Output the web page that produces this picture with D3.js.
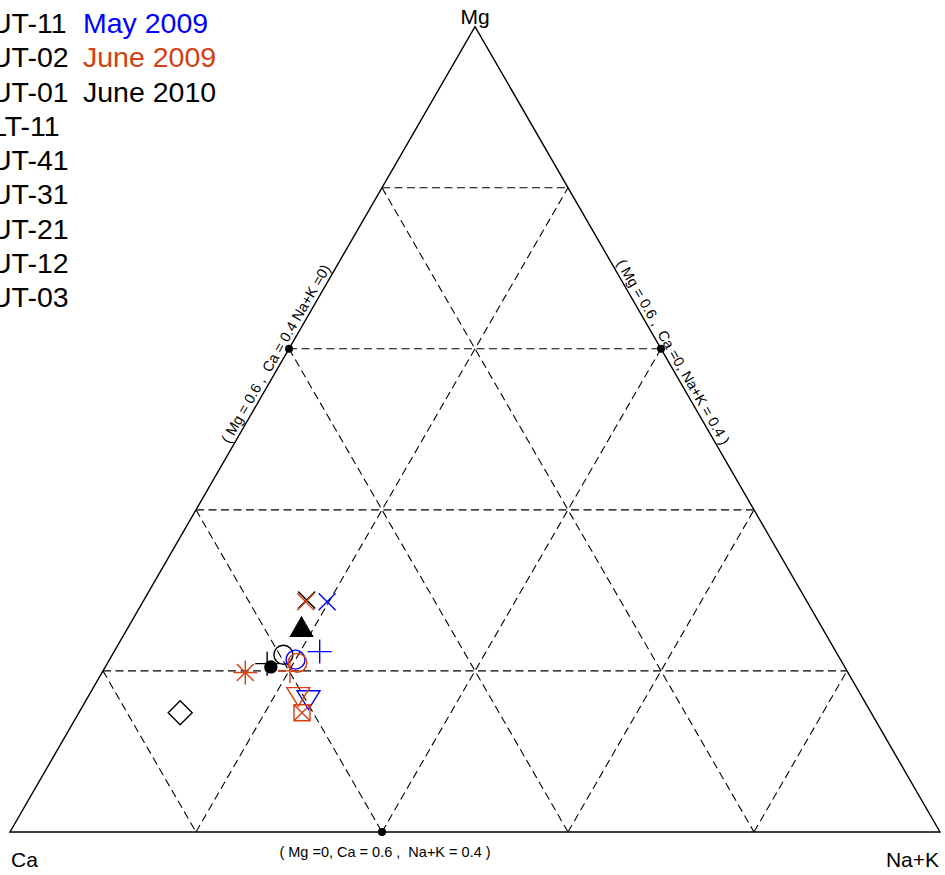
<!DOCTYPE html>
<html>
<head>
<meta charset="utf-8">
<script src="https://cdn.jsdelivr.net/npm/d3@7"></script>
<style>
  body { margin: 0; background: #fff; }
  svg { display: block; font-family: "Liberation Sans", Arial, sans-serif; }
</style>
</head>
<body>
<svg width="945" height="875"></svg>
<script>
// samples in legend order, with their marker
const samples = ['UT-11', 'UT-02', 'UT-01', 'LT-11', 'UT-41', 'UT-31', 'UT-21', 'UT-12', 'UT-03'];
const sampleSymbols = ['times', 'circle', 'plus', 'triangle', 'dot', 'asterisk', 'triangleDown', 'squareX', 'diamond'];

// sampling campaigns
const dates = ['May 2009', 'June 2009', 'June 2010'];
const dateColors = ['#0000ff', '#d4400f', '#000000'];

// [sample, date, Mg, Ca, Na+K] (fractions)
const may2009 = [
  ['UT-11', 'May 2009', 0.286, 0.516, 0.198],
  ['UT-02', 'May 2009', 0.214, 0.586, 0.200],
  ['UT-01', 'May 2009', 0.224, 0.555, 0.221],
  ['UT-21', 'May 2009', 0.166, 0.596, 0.238]
];
const june2009 = [
  ['UT-11', 'June 2009', 0.286, 0.539, 0.175],
  ['UT-02', 'June 2009', 0.210, 0.586, 0.204],
  ['UT-01', 'June 2009', 0.200, 0.599, 0.201],
  ['UT-31', 'June 2009', 0.198, 0.648, 0.154],
  ['UT-21', 'June 2009', 0.170, 0.605, 0.225],
  ['UT-12', 'June 2009', 0.148, 0.612, 0.240]
];
const june2010 = [
  ['UT-11', 'June 2010', 0.288, 0.537, 0.175],
  ['UT-02', 'June 2010', 0.220, 0.596, 0.184],
  ['UT-01', 'June 2010', 0.209, 0.619, 0.172],
  ['LT-11', 'June 2010', 0.253, 0.560, 0.187],
  ['UT-41', 'June 2010', 0.205, 0.617, 0.178],
  ['UT-03', 'June 2010', 0.148, 0.743, 0.109]
];

const gridLevels = [0.2, 0.4, 0.6, 0.8];

// reference points marked on the triangle edges [Mg, Ca, Na+K]
const refPoints = [[0.6, 0.4, 0], [0.6, 0, 0.4], [0, 0.6, 0.4]];
const refLabels = ['( Mg = 0.6 ,  Ca = 0.4 Na+K =0)', '( Mg = 0.6 ,  Ca =0, Na+K = 0.4 )', '( Mg =0, Ca = 0.6 ,  Na+K = 0.4 )'];

const svg = d3.select('svg');
const S3 = Math.sqrt(3) / 2;
const side = 930;

const x = d3.scaleLinear().domain([0, 1]).range([10, 10 + side]);
const y = d3.scaleLinear().domain([0, S3]).range([832, 832 - side * S3]);

function proj(mg, ca, na) {
  const s = mg + ca + na;
  mg /= s; na /= s;
  return [x(na + mg / 2), y(mg * S3)];
}

const line = d3.line();

// dashed grid
const grid = [];
gridLevels.forEach(v => {
  grid.push([proj(v, 1 - v, 0), proj(v, 0, 1 - v)]);   // Mg const
  grid.push([proj(1 - v, v, 0), proj(0, v, 1 - v)]);   // Ca const
  grid.push([proj(0, 1 - v, v), proj(1 - v, 0, v)]);   // Na+K const
});
svg.append('g')
  .selectAll('path')
  .data(grid)
  .enter()
  .append('path')
  .attr('d', d => line(d))
  .attr('fill', 'none')
  .attr('stroke', '#000')
  .attr('stroke-width', 1.1)
  .attr('stroke-dasharray', '8,4.5');

// outline
svg.append('path')
  .attr('d', line([proj(0, 1, 0), proj(0, 0, 1), proj(1, 0, 0)]) + 'Z')
  .attr('fill', 'none')
  .attr('stroke', '#000')
  .attr('stroke-width', 1.4);

// vertex labels
const ca0 = proj(0, 1, 0), na0 = proj(0, 0, 1), mg0 = proj(1, 0, 0);
svg.append('text').attr('x', mg0[0]).attr('y', 24).attr('text-anchor', 'middle')
  .attr('font-size', 21).text('Mg');
svg.append('text').attr('x', ca0[0] + 1).attr('y', 867).attr('font-size', 21).text('Ca');
svg.append('text').attr('x', na0[0] - 1).attr('y', 867).attr('text-anchor', 'end')
  .attr('font-size', 21).text('Na+K');

// reference dots + labels
refPoints.forEach((p, i) => {
  const [px, py] = proj(p[0], p[1], p[2]);
  svg.append('circle').attr('cx', px).attr('cy', py).attr('r', 4).attr('fill', '#000');
  let tr, ty;
  if (i === 0) { tr = `translate(${px - 5.5},${py + 9.5}) rotate(-60)`; ty = -4; }
  else if (i === 1) { tr = `translate(${px + 4.5},${py + 7.8}) rotate(60)`; ty = -4; }
  else { tr = `translate(${px + 3},${py})`; ty = 25; }
  svg.append('text')
    .attr('transform', tr)
    .attr('y', ty)
    .attr('text-anchor', 'middle')
    .attr('font-size', 14.5)
    .style('white-space', 'pre')
    .text(refLabels[i]);
});

// marker shapes
function symbolPath(type) {
  const p = d3.path();
  if (type === 'times') {
    const r = 8.5;
    p.moveTo(-r, -r); p.lineTo(r, r); p.moveTo(-r, r); p.lineTo(r, -r);
  } else if (type === 'plus') {
    const r = 12;
    p.moveTo(-r, 0); p.lineTo(r, 0); p.moveTo(0, -r); p.lineTo(0, r);
  } else if (type === 'circle') {
    p.arc(0, 0, 9.5, 0, 2 * Math.PI);
  } else if (type === 'dot') {
    p.arc(0, 0, 6, 0, 2 * Math.PI);
  } else if (type === 'triangle') {
    p.moveTo(0, -11); p.lineTo(11, 8); p.lineTo(-11, 8); p.closePath();
  } else if (type === 'triangleDown') {
    p.moveTo(-11.5, -7.5); p.lineTo(11.5, -7.5); p.lineTo(0, 11); p.closePath();
  } else if (type === 'squareX') {
    const r = 8;
    p.rect(-r, -r, 2 * r, 2 * r);
    p.moveTo(-r, -r); p.lineTo(r, r); p.moveTo(-r, r); p.lineTo(r, -r);
  } else if (type === 'diamond') {
    const r = 12;
    p.moveTo(0, -r); p.lineTo(r, 0); p.lineTo(0, r); p.lineTo(-r, 0); p.closePath();
  } else if (type === 'asterisk') {
    const r = 12;
    for (let k = 0; k < 4; k++) {
      const a = k * Math.PI / 4;
      p.moveTo(-r * Math.cos(a), -r * Math.sin(a));
      p.lineTo(r * Math.cos(a), r * Math.sin(a));
    }
  }
  return p.toString();
}
const symbolOf = s => sampleSymbols[samples.indexOf(s)];
const colorOf = d => dateColors[dates.indexOf(d)];
const filled = t => t === 'dot' || t === 'triangle';

const points = [].concat(june2010, may2009, june2009);
svg.append('g')
  .selectAll('path')
  .data(points)
  .enter()
  .append('path')
  .attr('transform', d => { const [px, py] = proj(d[2], d[3], d[4]); return `translate(${px},${py})`; })
  .attr('d', d => symbolPath(symbolOf(d[0])))
  .attr('fill', d => filled(symbolOf(d[0])) ? colorOf(d[1]) : 'none')
  .attr('stroke', d => colorOf(d[1]))
  .attr('stroke-width', 1.4);

// legend (sample markers sit off the left edge, only labels show)
const legY = d3.scaleLinear().domain([0, samples.length - 1]).range([33, 307]);
const leg = svg.append('g').attr('font-size', 28.5);
leg.selectAll('path')
  .data(samples)
  .enter()
  .append('path')
  .attr('transform', (d, i) => `translate(-30,${legY(i) - 9})`)
  .attr('d', d => symbolPath(symbolOf(d)))
  .attr('fill', d => filled(symbolOf(d)) ? '#000' : 'none')
  .attr('stroke', '#000');
leg.selectAll('text.s')
  .data(samples)
  .enter()
  .append('text')
  .attr('class', 's')
  .attr('x', -9)
  .attr('y', (d, i) => legY(i))
  .text(d => d);
leg.selectAll('text.d')
  .data(dates)
  .enter()
  .append('text')
  .attr('class', 'd')
  .attr('x', 83)
  .attr('y', (d, i) => legY(i))
  .attr('fill', (d, i) => dateColors[i])
  .text(d => d);
</script>
</body>
</html>
